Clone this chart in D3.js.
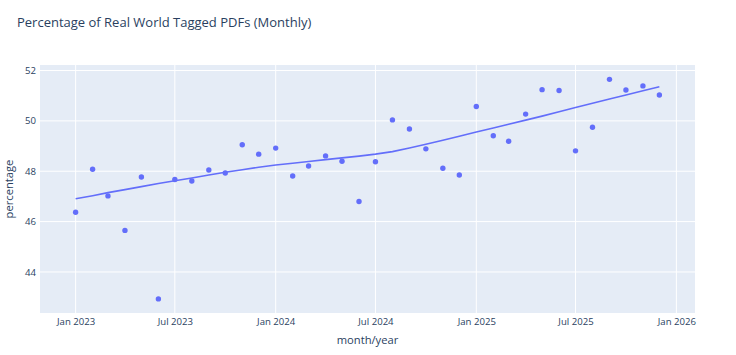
<!DOCTYPE html>
<html>
<head>
<meta charset="utf-8">
<script src="https://cdn.jsdelivr.net/npm/d3@7"></script>
<style>
  html, body { margin: 0; padding: 0; background: #fff; }
  svg { display: block; font-family: "Open Sans", sans-serif; }
</style>
</head>
<body>
<svg id="chart" width="736" height="355"></svg>
<script>
const months = [
  "2023-01","2023-02","2023-03","2023-04","2023-05","2023-06","2023-07","2023-08","2023-09","2023-10","2023-11","2023-12",
  "2024-01","2024-02","2024-03","2024-04","2024-05","2024-06","2024-07","2024-08","2024-09","2024-10","2024-11","2024-12",
  "2025-01","2025-02","2025-03","2025-04","2025-05","2025-06","2025-07","2025-08","2025-09","2025-10","2025-11","2025-12"
];
const percentage = [
  46.37, 48.08, 47.02, 45.65, 47.77, 42.93, 47.67, 47.61, 48.05, 47.93, 49.05, 48.68,
  48.92, 47.81, 48.21, 48.61, 48.40, 46.80, 48.38, 50.04, 49.68, 48.89, 48.12, 47.85,
  50.57, 49.41, 49.19, 50.27, 51.24, 51.21, 48.81, 49.75, 51.65, 51.23, 51.39, 51.03
];
const trend = [
  46.91, 47.03, 47.15, 47.27, 47.39, 47.51, 47.62, 47.73, 47.85, 47.96, 48.06, 48.16,
  48.25, 48.32, 48.39, 48.46, 48.53, 48.60, 48.68, 48.78, 48.92, 49.07, 49.23, 49.39,
  49.56, 49.72, 49.87, 50.03, 50.19, 50.36, 50.53, 50.70, 50.87, 51.03, 51.20, 51.36
];
const xTicks = ["2023-01","2023-07","2024-01","2024-07","2025-01","2025-07","2026-01"];
const yTicks = [44, 46, 48, 50, 52];
const xDomain = ["2022-10-28", "2026-02-04"];
const yDomain = [42.37, 52.22];

const parseM = d3.utcParse("%Y-%m");
const parseD = d3.utcParse("%Y-%m-%d");
const fmt = d3.utcFormat("%b %Y");

const plot = { left: 40, right: 695, top: 65, bottom: 313 };
const textColor = "#2a3f5f";
const mColor = "#636efa";

const svg = d3.select("#chart");

const x = d3.scaleUtc().domain(xDomain.map(parseD)).range([plot.left, plot.right]);
const y = d3.scaleLinear().domain(yDomain).range([plot.bottom, plot.top]);

const data = months.map((m, i) => ({ date: parseM(m), v: percentage[i], t: trend[i] }));

svg.append("rect")
  .attr("x", plot.left).attr("y", plot.top)
  .attr("width", plot.right - plot.left).attr("height", plot.bottom - plot.top)
  .attr("fill", "#E5ECF6");

const grid = svg.append("g");
grid.selectAll("line.gx").data(xTicks.map(parseM)).join("line")
  .attr("x1", d => x(d)).attr("x2", d => x(d))
  .attr("y1", plot.top).attr("y2", plot.bottom)
  .attr("stroke", "#fff").attr("stroke-width", 1);
grid.selectAll("line.gy").data(yTicks).join("line")
  .attr("x1", plot.left).attr("x2", plot.right)
  .attr("y1", d => y(d)).attr("y2", d => y(d))
  .attr("stroke", "#fff").attr("stroke-width", 1);

const xAxis = d3.axisBottom(x).tickValues(xTicks.map(parseM)).tickFormat(fmt).tickSize(0).tickPadding(4.7);
const gx = svg.append("g").attr("transform", `translate(0,${plot.bottom})`).call(xAxis);
gx.select(".domain").remove();
gx.selectAll("text").attr("fill", textColor).style("font-size", "9.6px").style("font-family", "'Open Sans', sans-serif");

const yAxis = d3.axisLeft(y).tickValues(yTicks).tickFormat(d3.format("d")).tickSize(0).tickPadding(4);
const gy = svg.append("g").attr("transform", `translate(${plot.left},0)`).call(yAxis);
gy.select(".domain").remove();
gy.selectAll("text").attr("fill", textColor).style("font-size", "9.6px").style("font-family", "'Open Sans', sans-serif");

svg.append("g").selectAll("circle").data(data).join("circle")
  .attr("cx", d => x(d.date)).attr("cy", d => y(d.v)).attr("r", 2.7)
  .attr("fill", mColor);

svg.append("path").datum(data)
  .attr("fill", "none").attr("stroke", mColor).attr("stroke-width", 1.6)
  .attr("d", d3.line().x(d => x(d.date)).y(d => y(d.t)));

svg.append("text").attr("x", 17).attr("y", 26.5)
  .attr("fill", textColor).style("font-size", "13px")
  .text("Percentage of Real World Tagged PDFs (Monthly)");

svg.append("text").attr("x", (plot.left + plot.right) / 2).attr("y", 343.5)
  .attr("text-anchor", "middle").attr("fill", textColor).style("font-size", "11.2px")
  .text("month/year");
svg.append("text")
  .attr("transform", `translate(13.3,${(plot.top + plot.bottom) / 2}) rotate(-90)`)
  .attr("text-anchor", "middle").attr("fill", textColor).style("font-size", "11.2px")
  .text("percentage");
</script>
</body>
</html>
